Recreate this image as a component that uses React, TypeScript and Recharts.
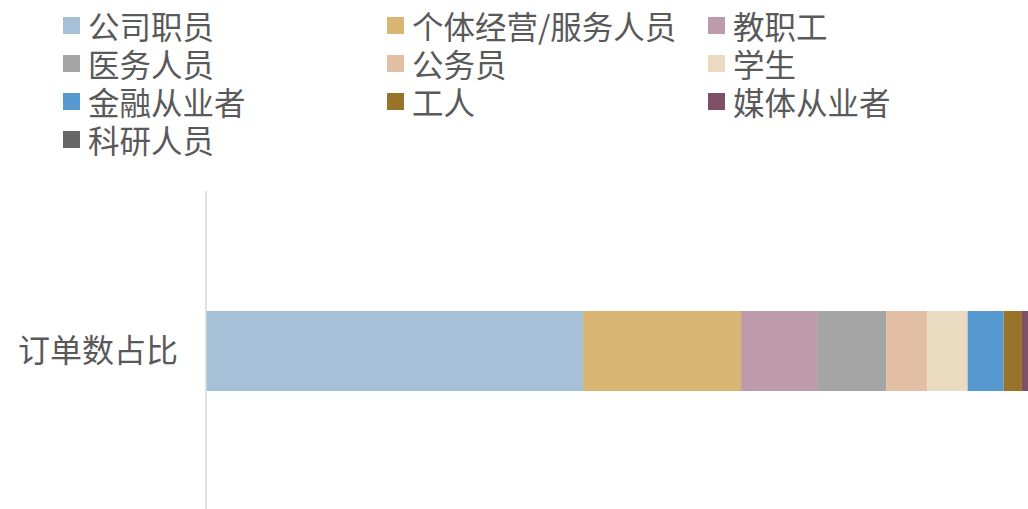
import { BarChart, Bar, XAxis, YAxis, Legend } from 'recharts';

const categories = ['订单数占比'];
const seriesNames = [
  '公司职员',
  '个体经营/服务人员',
  '教职工',
  '医务人员',
  '公务员',
  '学生',
  '金融从业者',
  '工人',
  '媒体从业者',
  '科研人员',
];
const seriesValues = [45.1, 18.9, 9.2, 8.2, 4.9, 4.8, 4.3, 2.2, 1.5, 0.9];
const colors = [
  '#a6c1d7',
  '#d8b572',
  '#be9bab',
  '#a5a5a5',
  '#e2bfa4',
  '#eadbc0',
  '#5699d0',
  '#98742a',
  '#7e5068',
  '#666666',
];

const data = categories.map((name) => {
  const row: Record<string, string | number> = { name };
  seriesNames.forEach((s, i) => {
    row[s] = seriesValues[i];
  });
  return row;
});

const font = '"Noto Sans CJK SC", "Noto Sans", sans-serif';

const LegendGrid = () => (
  <div
    style={{
      display: 'grid',
      gridTemplateColumns: '324px 321px 320px',
      gridAutoRows: '38px',
      paddingLeft: 63,
      paddingTop: 6,
      fontFamily: font,
      fontSize: 31.5,
      color: '#595959',
    }}
  >
    {seriesNames.map((s, i) => (
      <div key={s} style={{ display: 'flex', alignItems: 'center', whiteSpace: 'nowrap', height: 38 }}>
        <span style={{ width: 17, height: 17, background: colors[i], marginRight: 8, flex: 'none' }} />
        <span style={{ display: 'block', height: 38, lineHeight: '38px', overflow: 'visible' }}>{s}</span>
      </div>
    ))}
  </div>
);

export default function App() {
  return (
    <div
      style={{
        position: 'fixed',
        left: 0,
        top: 0,
        width: 1028,
        height: 509,
        overflow: 'hidden',
        background: '#fff',
      }}
    >
      <BarChart
        width={1042}
        height={520}
        data={data}
        layout="vertical"
        margin={{ top: 191, right: 0, bottom: 10, left: 0 }}
      >
        <XAxis type="number" domain={[0, 100]} hide />
        <YAxis
          type="category"
          dataKey="name"
          width={206}
          tickLine={false}
          tickSize={0}
          tickMargin={28}
          axisLine={{ stroke: '#d9d9d9', strokeWidth: 1.5 }}
          tick={{ fontSize: 32, fill: '#595959', fontFamily: font }}
        />
        <Legend
          layout="horizontal"
          verticalAlign="middle"
          align="center"
          wrapperStyle={{ top: 0, left: 0, width: 1028, height: 170 }}
          content={() => <LegendGrid />}
        />
        {seriesNames.map((s, i) => (
          <Bar
            key={s}
            dataKey={s}
            stackId="a"
            fill={colors[i]}
            barSize={80}
            isAnimationActive={false}
          />
        ))}
      </BarChart>
    </div>
  );
}
